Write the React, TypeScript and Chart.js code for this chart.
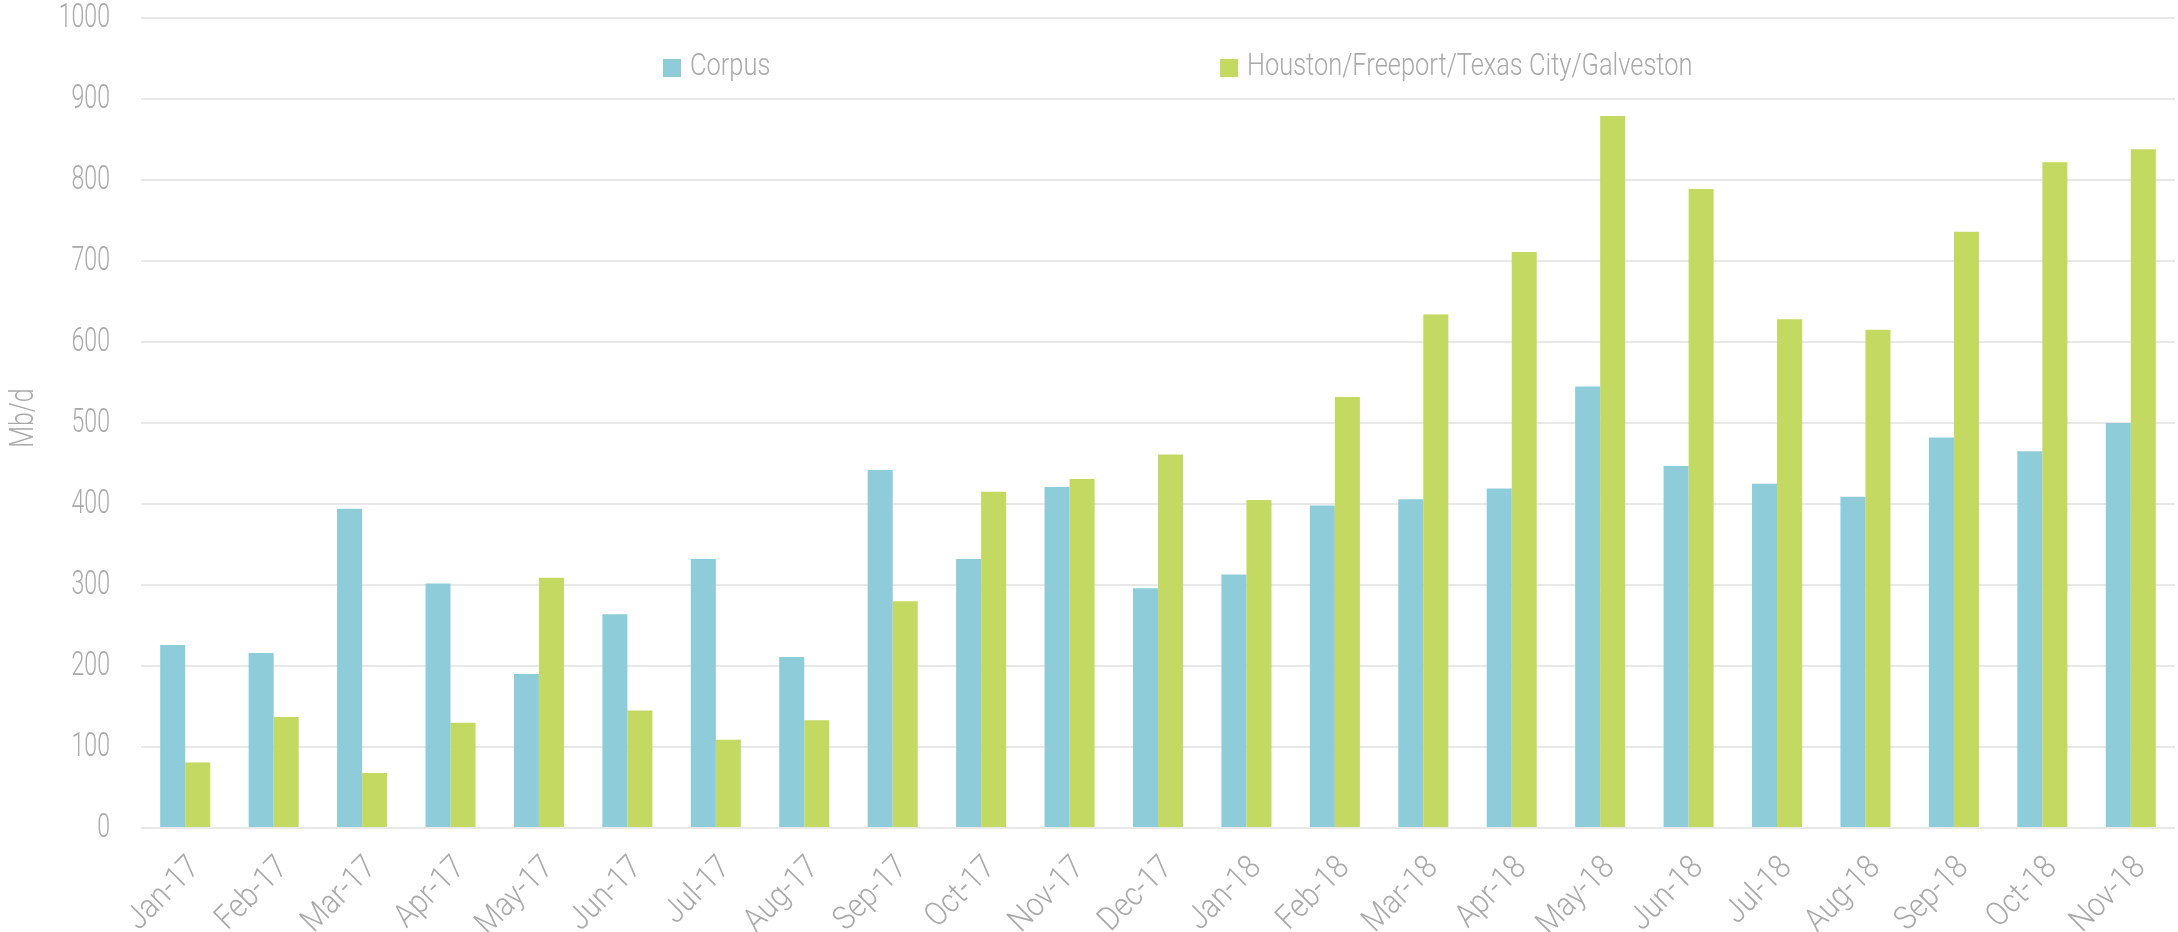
import React, { useEffect, useRef } from "react";
import { Chart, registerables } from "chart.js";

Chart.register(...registerables);

const categories = [
  "Jan-17", "Feb-17", "Mar-17", "Apr-17", "May-17", "Jun-17", "Jul-17", "Aug-17",
  "Sep-17", "Oct-17", "Nov-17", "Dec-17", "Jan-18", "Feb-18", "Mar-18", "Apr-18",
  "May-18", "Jun-18", "Jul-18", "Aug-18", "Sep-18", "Oct-18", "Nov-18",
];

const corpusValues = [
  226, 216, 394, 302, 190, 264, 332, 211, 442, 332, 421, 296,
  313, 398, 406, 419, 545, 447, 425, 409, 482, 465, 500,
];

const houstonValues = [
  81, 137, 68, 130, 309, 145, 109, 133, 280, 415, 431, 461,
  405, 532, 634, 711, 879, 789, 628, 615, 736, 822, 838,
];

const seriesNames = ["Corpus", "Houston/Freeport/Texas City/Galveston"];
const yTicks = [0, 100, 200, 300, 400, 500, 600, 700, 800, 900, 1000];
const yTitle = "Mb/d";

const FONT = "Roboto, 'Noto Sans', sans-serif";
const TEXT = "#A9A9A9";
const COL_CORPUS = "#8FCCD9";
const COL_HOUSTON = "#C4D962";

// draw condensed text (real canvas text, squeezed horizontally with maxWidth)
function squeezed(ctx: CanvasRenderingContext2D, text: string, x: number, y: number, factor: number) {
  const w = ctx.measureText(text).width;
  ctx.fillText(text, x, y, w * factor);
}

const textPlugin = {
  id: "condensedText",
  afterDraw(chart: any) {
    const ctx: CanvasRenderingContext2D = chart.ctx;
    const area = chart.chartArea;
    const xs = chart.scales.x;
    const ys = chart.scales.y;
    ctx.save();
    ctx.fillStyle = TEXT;

    // y tick labels
    ctx.font = `300 34px ${FONT}`;
    ctx.textAlign = "right";
    ctx.textBaseline = "middle";
    yTicks.forEach((v) => {
      squeezed(ctx, String(v), area.left - 31, ys.getPixelForValue(v), 0.68);
    });

    // x tick labels (rotated 45°)
    ctx.font = `300 33px ${FONT}`;
    categories.forEach((c, i) => {
      const px = xs.getPixelForValue(i);
      ctx.save();
      ctx.translate(px + 10, area.bottom + 35);
      ctx.rotate(-Math.PI / 4);
      ctx.textAlign = "right";
      ctx.textBaseline = "middle";
      squeezed(ctx, c, 0, 0, 0.88);
      ctx.restore();
    });

    // y axis title
    ctx.save();
    ctx.font = `300 33px ${FONT}`;
    ctx.translate(25, (area.top + area.bottom) / 2 - 5);
    ctx.rotate(-Math.PI / 2);
    ctx.textAlign = "center";
    ctx.textBaseline = "middle";
    squeezed(ctx, yTitle, 0, 0, 0.76);
    ctx.restore();

    // legend inside plot
    const items = [
      { text: seriesNames[0], color: COL_CORPUS, x: 663 },
      { text: seriesNames[1], color: COL_HOUSTON, x: 1220 },
    ];
    ctx.font = `300 31px ${FONT}`;
    ctx.textAlign = "left";
    ctx.textBaseline = "middle";
    items.forEach((it) => {
      ctx.fillStyle = it.color;
      ctx.fillRect(it.x, 59, 18, 18);
      ctx.fillStyle = TEXT;
      squeezed(ctx, it.text, it.x + 27, 67, 0.82);
    });
    ctx.restore();
  },
};

export default function App() {
  const ref = useRef<HTMLCanvasElement>(null);
  useEffect(() => {
    document.body.style.margin = "0";
    const canvas = ref.current!;
    const chart = new Chart(canvas, {
      type: "bar",
      data: {
        labels: categories,
        datasets: [
          {
            label: seriesNames[0],
            data: corpusValues,
            backgroundColor: COL_CORPUS,
            barPercentage: 1,
            categoryPercentage: 0.566,
          },
          {
            label: seriesNames[1],
            data: houstonValues,
            backgroundColor: COL_HOUSTON,
            barPercentage: 1,
            categoryPercentage: 0.566,
          },
        ],
      },
      options: {
        responsive: false,
        animation: false,
        layout: { padding: { top: 18, right: 3, left: 0, bottom: 0 } },
        plugins: {
          legend: { display: false },
          tooltip: { enabled: false },
        },
        scales: {
          x: {
            grid: { display: false },
            border: { display: false },
            ticks: { display: false },
            afterFit(scale: any) {
              scale.height = 104;
            },
          },
          y: {
            min: 0,
            max: 1000,
            afterBuildTicks(scale: any) {
              scale.ticks = yTicks.map((v) => ({ value: v }));
            },
            grid: { color: "#E8E8E8", lineWidth: 2, drawTicks: false },
            border: { display: false },
            ticks: { display: false },
            title: { display: false, text: yTitle },
            afterFit(scale: any) {
              scale.width = 141;
            },
          },
        },
      },
      plugins: [textPlugin],
    });
    return () => chart.destroy();
  }, []);
  return (
    <canvas ref={ref} width={2178} height={932} style={{ display: "block", width: 2178, height: 932 }} />
  );
}
